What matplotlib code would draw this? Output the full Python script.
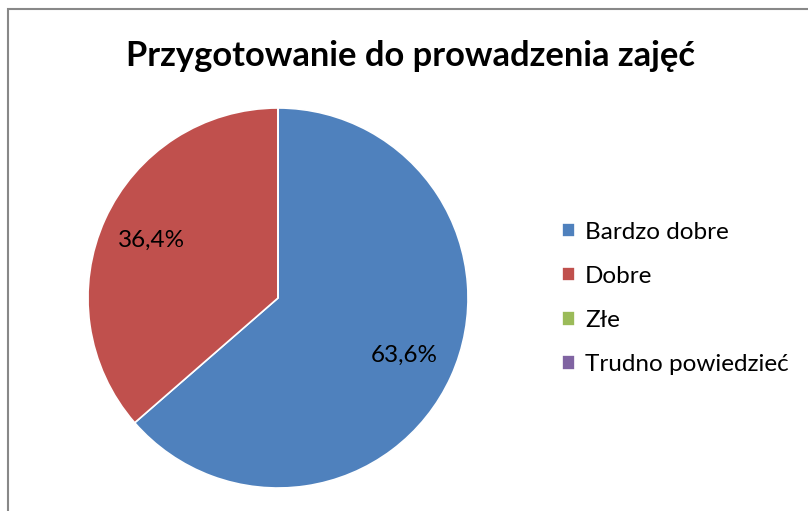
import matplotlib.pyplot as plt
from matplotlib.patches import Rectangle

# data
categories = ["Bardzo dobre", "Dobre", "Złe", "Trudno powiedzieć"]
shares = [63.6, 36.4, 0.0, 0.0]
colors = ["#4F81BD", "#C0504D", "#9BBB59", "#8064A2"]
title = "Przygotowanie do prowadzenia zajęć"

plt.rcParams["font.family"] = ["Lato", "DejaVu Sans"]

W, H = 808, 511
fig = plt.figure(figsize=(W / 100, H / 100), dpi=100)

# chart frame (only top and left edges show inside the crop)
fig.patches.append(Rectangle((8 / W, -0.5), 1.5, 1.5 - 9.5 / H, transform=fig.transFigure,
                             fill=False, edgecolor="#888888", linewidth=1.5))

fig.text(410 / W, 1 - 56 / H, title, ha="center", va="center",
         fontsize=24.8, fontweight="bold")

cx, cy, r = 278, 298, 190
ax = fig.add_axes([(cx - r) / W, (H - cy - r) / H, 2 * r / W, 2 * r / H])


def pct_label(p):
    if p <= 0:
        return ""
    return f"{p:.1f}%".replace(".", ",")


wedges, texts, autotexts = ax.pie(
    shares, colors=colors, startangle=90, counterclock=False,
    autopct=pct_label, pctdistance=0.73,
    wedgeprops=dict(edgecolor="white", linewidth=1.2),
    textprops=dict(fontsize=17.5, color="black"),
)
ax.set_xlim(-1, 1)
ax.set_ylim(-1, 1)
ax.set_aspect("equal")
ax.axis("off")

fig.legend(wedges, categories, loc="center left",
           bbox_to_anchor=(562 / W, 1 - 298.5 / H), frameon=False,
           fontsize=17.5, handlelength=0.52, handleheight=0.52,
           handletextpad=0.42, labelspacing=0.95, borderpad=0,
           borderaxespad=0)

fig.savefig("out.png", dpi=100, facecolor="white")
